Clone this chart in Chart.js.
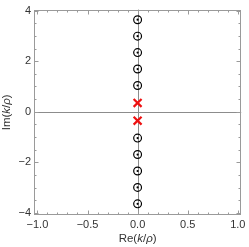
<!DOCTYPE html>
<html>
<head>
<meta charset="utf-8">
<script src="https://cdn.jsdelivr.net/npm/chart.js@4.4.1/dist/chart.umd.min.js"></script>
<style>
  html, body { margin: 0; padding: 0; background: #fff; }
  #wrap { width: 249px; height: 247px; }
</style>
</head>
<body>
<div id="wrap"><canvas id="c" width="249" height="247"></canvas></div>
<script>
// --- datos ---
const circleRe = [0, 0, 0, 0, 0, 0, 0, 0, 0, 0];
const circleIm = [3.64, 2.99, 2.34, 1.69, 1.04, -1.04, -1.69, -2.34, -2.99, -3.64];
const crossRe = [0, 0];
const crossIm = [0.35, -0.35];

const xTicks = [-1, -0.5, 0, 0.5, 1];
const xMinor = [-1, -0.9, -0.8, -0.7, -0.6, -0.5, -0.4, -0.3, -0.2, -0.1, 0, 0.1, 0.2, 0.3, 0.4, 0.5, 0.6, 0.7, 0.8, 0.9, 1];
const yTicks = [-4, -2, 0, 2, 4];
const yMinor = [-4, -3.5, -3, -2.5, -2, -1.5, -1, -0.5, 0, 0.5, 1, 1.5, 2, 2.5, 3, 3.5, 4];

const FONT = "'Liberation Sans', Arial, sans-serif";
const FRAME = '#9a9a9a';
const LABEL = '#333333';

Chart.defaults.font.family = FONT;
Chart.defaults.font.size = 11;
Chart.defaults.color = LABEL;

const fmt = (v, d) => {
  const s = Math.abs(v).toFixed(d);
  return v < 0 ? '\u2212' + s : s;
};

// marco con marcas hacia dentro + líneas de cero + títulos
const framePlugin = {
  id: 'frame',
  beforeDatasetsDraw(chart) {
    const { ctx, chartArea: a, scales: { x, y } } = chart;
    ctx.save();
    ctx.strokeStyle = '#8c8c8c';
    ctx.lineWidth = 1;
    const y0 = Math.round(y.getPixelForValue(0)) + 0.5;
    const x0 = Math.round(x.getPixelForValue(0)) + 0.5;
    ctx.beginPath();
    ctx.moveTo(a.left, y0); ctx.lineTo(a.right, y0);
    ctx.moveTo(x0, a.top); ctx.lineTo(x0, a.bottom);
    ctx.stroke();
    ctx.restore();
  },
  afterDraw(chart) {
    const { ctx, chartArea: a, scales: { x, y } } = chart;
    ctx.save();
    ctx.strokeStyle = FRAME;
    ctx.lineWidth = 1;
    const L = Math.round(a.left) + 0.5, R = Math.round(a.right) - 0.5;
    const T = Math.round(a.top) + 0.5, B = Math.round(a.bottom) - 0.5;
    ctx.strokeRect(L, T, R - L, B - T);
    ctx.beginPath();
    xMinor.forEach(v => {
      const px = Math.round(x.getPixelForValue(v)) + 0.5;
      const len = xTicks.includes(v) ? 4 : 2;
      ctx.moveTo(px, B); ctx.lineTo(px, B - len);
      ctx.moveTo(px, T); ctx.lineTo(px, T + len);
    });
    yMinor.forEach(v => {
      const py = Math.round(y.getPixelForValue(v)) + 0.5;
      const len = yTicks.includes(v) ? 4 : 2;
      ctx.moveTo(L, py); ctx.lineTo(L + len, py);
      ctx.moveTo(R, py); ctx.lineTo(R - len, py);
    });
    ctx.stroke();

    // títulos con k y ρ en cursiva
    const parts = [['Re(', false], ['k', true], ['/', false], ['\u03c1', true], [')', false]];
    const partsY = [['Im(', false], ['k', true], ['/', false], ['\u03c1', true], [')', false]];
    const drawTitle = (pp, cx, cy, rot) => {
      ctx.save();
      ctx.translate(cx, cy);
      if (rot) ctx.rotate(-Math.PI / 2);
      ctx.fillStyle = LABEL;
      ctx.textBaseline = 'alphabetic';
      let w = 0;
      pp.forEach(([t, it]) => { ctx.font = (it ? 'italic ' : '') + '11.5px ' + FONT; w += ctx.measureText(t).width; });
      let cur = -w / 2;
      pp.forEach(([t, it]) => {
        ctx.font = (it ? 'italic ' : '') + '11.5px ' + FONT;
        ctx.fillText(t, cur, 4);
        cur += ctx.measureText(t).width;
      });
      ctx.restore();
    };
    drawTitle(parts, (a.left + a.right) / 2, 238, false);
    drawTitle(partsY, 6, (a.top + a.bottom) / 2, true);
    ctx.restore();
  }
};

new Chart(document.getElementById('c'), {
  type: 'scatter',
  data: {
    datasets: [
      {
        label: 'círculos',
        data: circleRe.map((re, i) => ({ x: re, y: circleIm[i] })),
        pointStyle: 'circle',
        pointRadius: 3.9,
        borderColor: '#000',
        borderWidth: 1.2,
        backgroundColor: 'rgba(0,0,0,0)'
      },
      {
        label: 'centros',
        data: circleRe.map((re, i) => ({ x: re, y: circleIm[i] })),
        pointStyle: 'circle',
        pointRadius: 1.1,
        borderWidth: 0,
        backgroundColor: '#000'
      },
      {
        label: 'cruces',
        data: crossRe.map((re, i) => ({ x: re, y: crossIm[i] })),
        pointStyle: 'crossRot',
        pointRadius: 5.6,
        borderColor: '#ee1111',
        borderWidth: 2.2
      }
    ]
  },
  options: {
    responsive: false,
    animation: false,
    layout: { padding: { top: 4, right: 5, left: 0, bottom: 0 } },
    plugins: { legend: { display: false }, tooltip: { enabled: false } },
    scales: {
      x: {
        type: 'linear',
        min: -1.034,
        max: 1.034,
        afterFit: (s) => { s.height = 32; },
        afterBuildTicks: (s) => { s.ticks = xTicks.map(v => ({ value: v })); },
        grid: { display: false, drawTicks: false },
        border: { display: false },
        ticks: { padding: 3, maxRotation: 0, autoSkip: false, callback: (v) => fmt(v, 1) }
      },
      y: {
        type: 'linear',
        min: -4.08,
        max: 4.04,
        afterFit: (s) => { s.width = 34; },
        afterBuildTicks: (s) => { s.ticks = yTicks.map(v => ({ value: v })); },
        grid: { display: false, drawTicks: false },
        border: { display: false },
        ticks: { padding: 3, autoSkip: false, callback: (v) => fmt(v, 0) }
      }
    }
  },
  plugins: [framePlugin]
});
</script>
</body>
</html>
